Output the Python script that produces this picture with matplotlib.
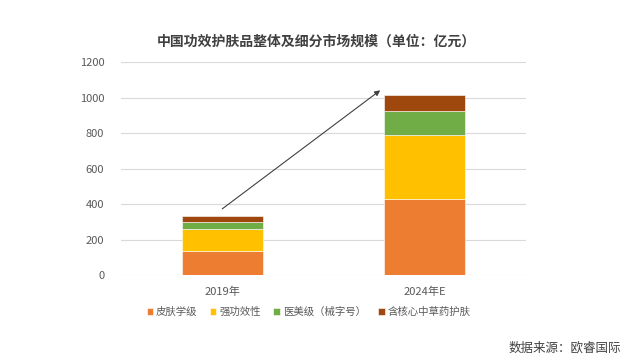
import matplotlib
matplotlib.use("Agg")
import matplotlib.pyplot as plt
import numpy as np

plt.rcParams['font.family'] = ['Noto Sans CJK SC', 'DejaVu Sans']

# 数据
years = ['2019年', '2024年E']
series_names = ['皮肤学级', '强功效性', '医美级（械字号）', '含核心中草药护肤']
pifu = [137, 426]
qianggong = [122, 365]
yimei = [40, 131]
zhongcao = [33, 91]
colors = ['#ED7D31', '#FFC000', '#70AD47', '#9E480E']

arrow_start = (0.0, 373)
arrow_end = (0.78, 1041)

fig = plt.figure(figsize=(6.3, 3.61), dpi=100)
ax = fig.add_axes([0.192, 0.238, 0.643, 0.59])

x = np.arange(len(years))
bottom = np.zeros(len(years))
for name, vals, c in zip(series_names, [pifu, qianggong, yimei, zhongcao], colors):
    ax.bar(x, vals, width=0.4, bottom=bottom, color=c, label=name,
           edgecolor='white', linewidth=0.4, zorder=3)
    bottom += np.array(vals)

ax.annotate('', xy=arrow_end, xytext=arrow_start,
            arrowprops=dict(arrowstyle='-|>', color='#404040', lw=0.8,
                            mutation_scale=8, shrinkA=0, shrinkB=0),
            zorder=4)

ax.set_xlim(-0.5, 1.5)
ax.set_ylim(0, 1200)
ax.set_yticks(range(0, 1201, 200))
ax.set_xticks(x)
ax.set_xticklabels(years)
ax.grid(axis='y', color='#D9D9D9', linewidth=0.8, zorder=0)
for s in ax.spines.values():
    s.set_visible(False)
ax.tick_params(axis='both', length=0, labelsize=8, colors='#595959')
ax.tick_params(axis='y', pad=12)
ax.tick_params(axis='x', pad=8)

fig.text(0.502, 0.884, '中国功效护肤品整体及细分市场规模（单位：亿元）',
         ha='center', va='center', fontsize=10, fontweight='bold', color='#404040')

fig.legend(loc='center', bbox_to_anchor=(0.49, 0.136), ncol=4, frameon=False,
           fontsize=7.5, handlelength=0.6, handleheight=0.6, handletextpad=0.3,
           columnspacing=1.2, labelcolor='#595959')

fig.text(0.985, 0.035, '数据来源：欧睿国际', ha='right', va='center',
         fontsize=9, color='#404040')

plt.savefig('out.png', dpi=100)
